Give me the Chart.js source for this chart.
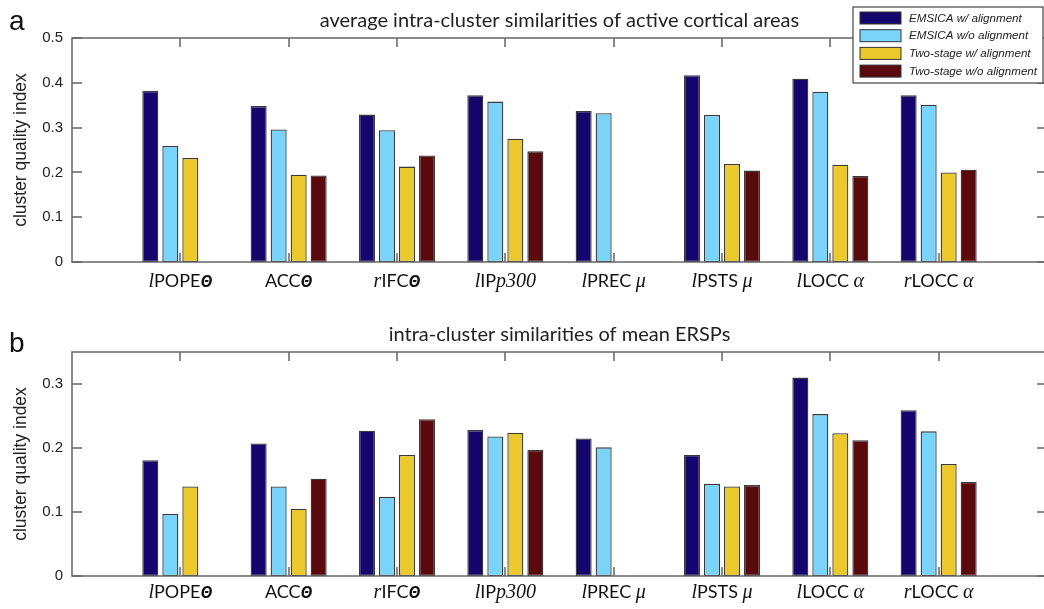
<!DOCTYPE html>
<html>
<head>
  <title>Cluster quality index</title>
  <script src="https://cdn.jsdelivr.net/npm/chart.js"></script>
  <style>
    html, body { margin: 0; padding: 0; background: #fff; overflow: hidden; }
    .panel { position: absolute; left: 0; }
  </style>
</head>
<body>
  <canvas id="chartA" class="panel" width="1050" height="305" style="top:0"></canvas>
  <canvas id="chartB" class="panel" width="1050" height="295" style="top:314px"></canvas>

  <script>
    const categories = ['lPOPEΘ', 'ACCΘ', 'rIFCΘ', 'lIPp300', 'lPREC μ', 'lPSTS μ', 'lLOCC α', 'rLOCC α'];
    const seriesNames = ['EMSICA w/ alignment', 'EMSICA w/o alignment', 'Two-stage w/ alignment', 'Two-stage w/o alignment'];
    const seriesColors = ['#15066e', '#7ad4f9', '#ebc92d', '#5a0a0d'];

    // panel a: average intra-cluster similarities of active cortical areas
    const activeEmsicaAlign     = [0.382, 0.348, 0.329, 0.372, 0.337, 0.417, 0.409, 0.372];
    const activeEmsicaNoAlign   = [0.259, 0.296, 0.294, 0.358, 0.332, 0.328, 0.380, 0.351];
    const activeTwoStageAlign   = [0.232, 0.195, 0.213, 0.275, 0,     0.219, 0.217, 0.200];
    const activeTwoStageNoAlign = [null,  0.193, 0.238, 0.247, 0,     0.204, 0.192, 0.206];

    // panel b: intra-cluster similarities of mean ERSPs
    const erspEmsicaAlign     = [0.181, 0.207, 0.227, 0.228, 0.215, 0.189, 0.310, 0.259];
    const erspEmsicaNoAlign   = [0.097, 0.140, 0.124, 0.218, 0.201, 0.144, 0.253, 0.226];
    const erspTwoStageAlign   = [0.140, 0.105, 0.189, 0.224, 0,     0.140, 0.223, 0.175];
    const erspTwoStageNoAlign = [null,  0.152, 0.245, 0.197, 0,     0.142, 0.212, 0.147];

    const yTicksA = [0, 0.1, 0.2, 0.3, 0.4, 0.5];
    const yTicksB = [0, 0.1, 0.2, 0.3];

    Chart.defaults.font.family = '"Liberation Sans", Arial, sans-serif';
    Chart.defaults.color = '#222';

    const fonts = {
      sans: '18px Lato',
      serif: 'italic 20px "Liberation Serif"',
      theta: 'italic bold 16px "Open Sans"'
    };

    // split a label like "lIPp300" into styled pieces
    function labelPieces(label) {
      return label.split(/(^[lr](?=[A-Z])|p300|Θ|[μα])/).filter(s => s).map(s => {
        if (s === 'Θ') return [s, fonts.theta];
        if (/^([lr]|p300|[μα])$/.test(s)) return [s, fonts.serif];
        return [s, fonts.sans];
      });
    }

    // MATLAB-like box, inward ticks, rich labels, title, legend
    const decor = {
      id: 'decor',
      beforeDatasetsDraw(chart, args, opts) {
        const { ctx, chartArea: a, scales: { x } } = chart;
        ctx.save();
        ctx.strokeStyle = '#666';
        ctx.lineWidth = 1.5;
        categories.forEach((c, i) => {
          const px = Math.round(x.getPixelForValue(i + 1));
          ctx.beginPath();
          ctx.moveTo(px, a.bottom); ctx.lineTo(px, a.bottom - 9);
          ctx.moveTo(px, a.top); ctx.lineTo(px, a.top + 9);
          ctx.stroke();
        });
        ctx.restore();
      },
      afterDraw(chart, args, opts) {
        const { ctx, chartArea: a, scales: { x, y } } = chart;
        ctx.save();
        // frame
        ctx.strokeStyle = '#666';
        ctx.lineWidth = 1.5;
        ctx.strokeRect(a.left, a.top, a.right - a.left, a.bottom - a.top);
        // y ticks inward, both sides
        y.ticks.forEach(t => {
          const py = Math.round(y.getPixelForValue(t.value));
          ctx.beginPath();
          ctx.moveTo(a.left, py); ctx.lineTo(a.left + 10, py);
          ctx.moveTo(a.right, py); ctx.lineTo(a.right - 10, py);
          ctx.stroke();
        });
        // category labels
        ctx.fillStyle = '#111';
        ctx.textBaseline = 'alphabetic';
        ctx.textAlign = 'left';
        categories.forEach((c, i) => {
          const pieces = labelPieces(c);
          let w = 0;
          pieces.forEach(p => { ctx.font = p[1]; w += ctx.measureText(p[0]).width; });
          let px = x.getPixelForValue(i + 1) - w / 2;
          pieces.forEach(p => {
            ctx.font = p[1];
            ctx.fillText(p[0], px, a.bottom + opts.labelOffset);
            px += ctx.measureText(p[0]).width;
          });
        });
        // title
        ctx.font = '20px Lato';
        ctx.fillStyle = '#222';
        ctx.textAlign = 'center';
        ctx.fillText(opts.title, (a.left + a.right) / 2, a.top - 11);
        // panel letter
        ctx.font = '28px "Liberation Sans"';
        ctx.textAlign = 'left';
        ctx.fillStyle = '#111';
        ctx.fillText(opts.letter, 9, a.top - opts.letterRise);
        // legend
        if (opts.legend) {
          const bx = 853, by = 7, bw = 190, bh = 76;
          ctx.fillStyle = '#fff';
          ctx.fillRect(bx, by, bw, bh);
          ctx.strokeStyle = '#444';
          ctx.lineWidth = 1.2;
          ctx.strokeRect(bx, by, bw, bh);
          ctx.font = 'italic 11.6px "Liberation Sans"';
          ctx.textBaseline = 'middle';
          chart.data.datasets.forEach((ds, i) => {
            const cy = 18 + i * 17.7;
            ctx.fillStyle = ds.backgroundColor;
            ctx.fillRect(860, cy - 6, 41, 12);
            ctx.strokeStyle = '#333';
            ctx.lineWidth = 1;
            ctx.strokeRect(860, cy - 6, 41, 12);
            ctx.fillStyle = '#222';
            ctx.fillText(ds.label, 909, cy + 0.5);
          });
        }
        ctx.restore();
      }
    };

    function pad(arr) { return [null, ...arr, null]; }

    function makeChart(id, series, yMax, yTicks, xHeight, decorOpts) {
      return new Chart(document.getElementById(id), {
        type: 'bar',
        data: {
          labels: ['', ...categories, ''],
          datasets: series.map((s, i) => ({
            label: seriesNames[i],
            data: pad(s),
            backgroundColor: seriesColors[i],
            borderColor: '#3a3a3a',
            borderWidth: 1.3,
            borderSkipped: false,
            categoryPercentage: 0.739,
            barPercentage: 0.8
          }))
        },
        options: {
          responsive: false,
          animation: false,
          layout: { padding: { top: 38, right: 3, left: 0, bottom: 0 } },
          plugins: {
            legend: { display: false },
            tooltip: { enabled: false },
            decor: decorOpts
          },
          scales: {
            x: {
              offset: false,
              grid: { display: false, drawTicks: false },
              border: { display: false },
              ticks: { display: false },
              afterFit: s => { s.height = xHeight; }
            },
            y: {
              min: 0,
              max: yMax,
              grid: { display: false, drawTicks: false },
              border: { display: false },
              afterBuildTicks: s => { s.ticks = yTicks.map(v => ({ value: v })); },
              ticks: {
                padding: 9,
                font: { size: 15 },
                color: '#222',
                callback: v => v === 0 ? '0' : v.toFixed(1)
              },
              title: {
                display: true,
                text: 'cluster quality index',
                font: { size: 17.5 },
                color: '#222',
                padding: { top: 11, bottom: 0 }
              },
              afterFit: s => { s.width = 72; }
            }
          }
        },
        plugins: [decor]
      });
    }

    makeChart('chartA',
      [activeEmsicaAlign, activeEmsicaNoAlign, activeTwoStageAlign, activeTwoStageNoAlign],
      0.5, yTicksA, 43,
      { title: 'average intra-cluster similarities of active cortical areas', letter: 'a', letterRise: 8, labelOffset: 25, legend: true });

    makeChart('chartB',
      [erspEmsicaAlign, erspEmsicaNoAlign, erspTwoStageAlign, erspTwoStageNoAlign],
      0.35, yTicksB, 33,
      { title: 'intra-cluster similarities of mean ERSPs', letter: 'b', letterRise: 0, labelOffset: 22, legend: false });
  </script>
</body>
</html>
